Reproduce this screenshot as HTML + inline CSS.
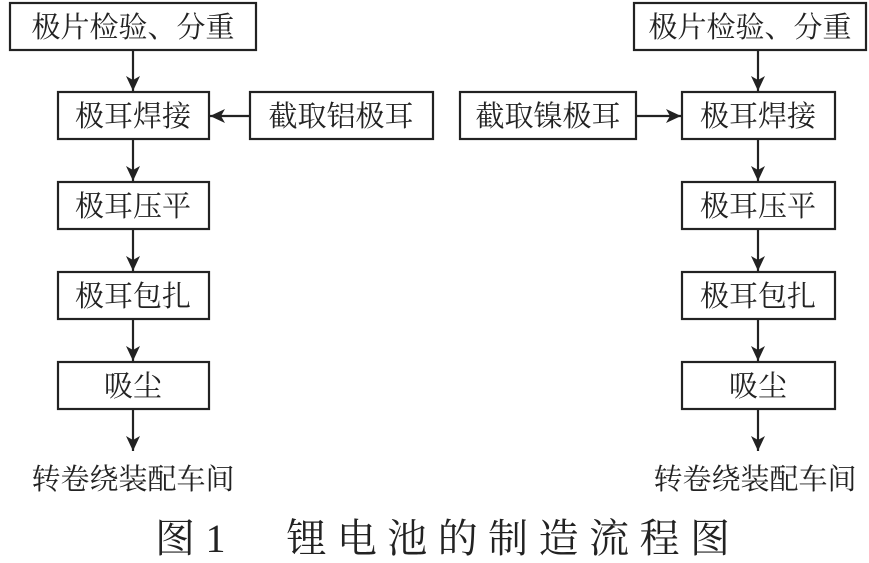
<!DOCTYPE html>
<html><head><meta charset="utf-8"><style>
body{margin:0;background:#fff;}
svg text{font-family:"Liberation Serif","Noto Serif CJK SC","Noto Serif CJK","Noto Serif SC",serif;fill:#222;}
</style></head><body>
<svg width="869" height="558" xmlns="http://www.w3.org/2000/svg">
<defs><marker id="b" markerWidth="16" markerHeight="16" refX="15" refY="7" orient="auto" markerUnits="userSpaceOnUse"><path d="M0,0 L15,7 L0,14 L4,7 Z" fill="#222"/></marker></defs>
<g fill="none" stroke="#222" stroke-width="2.2">
<rect x="10" y="3" width="246" height="47"/>
<rect x="58" y="92" width="151" height="47"/>
<rect x="250" y="92" width="183" height="47"/>
<rect x="58" y="182" width="151" height="47"/>
<rect x="58" y="272" width="151" height="47"/>
<rect x="58" y="362" width="151" height="47"/>
<rect x="634" y="3" width="232" height="47"/>
<rect x="460" y="92" width="176" height="47"/>
<rect x="682" y="92" width="153" height="47"/>
<rect x="682" y="182" width="153" height="47"/>
<rect x="682" y="272" width="153" height="47"/>
<rect x="682" y="362" width="153" height="47"/>
<g marker-end="url(#b)">
<line x1="133" y1="50" x2="133" y2="91"/>
<line x1="133" y1="139" x2="133" y2="181"/>
<line x1="133" y1="229" x2="133" y2="271"/>
<line x1="133" y1="319" x2="133" y2="361"/>
<line x1="133" y1="409" x2="133" y2="451"/>
<line x1="250" y1="116" x2="210" y2="116"/>
<line x1="758" y1="50" x2="758" y2="91"/>
<line x1="758" y1="139" x2="758" y2="181"/>
<line x1="758" y1="229" x2="758" y2="271"/>
<line x1="758" y1="319" x2="758" y2="361"/>
<line x1="758" y1="409" x2="758" y2="451"/>
<line x1="636" y1="116" x2="681" y2="116"/>
</g></g>
<g font-size="29" text-anchor="middle">
<text x="133" y="37">极片检验、分重</text>
<text x="341" y="126">截取铝极耳</text>
<text x="133" y="126">极耳焊接</text>
<text x="133" y="216">极耳压平</text>
<text x="133" y="306">极耳包扎</text>
<text x="133" y="396">吸尘</text>
<text x="133" y="489">转卷绕装配车间</text>
<text x="750" y="37">极片检验、分重</text>
<text x="548" y="126">截取镍极耳</text>
<text x="758" y="126">极耳焊接</text>
<text x="758" y="216">极耳压平</text>
<text x="758" y="306">极耳包扎</text>
<text x="758" y="396">吸尘</text>
<text x="755" y="489">转卷绕装配车间</text>
</g>
<text x="155" y="552" font-size="40" textLength="575" lengthAdjust="spacing">图1　锂电池的制造流程图</text>
</svg>
</body></html>
